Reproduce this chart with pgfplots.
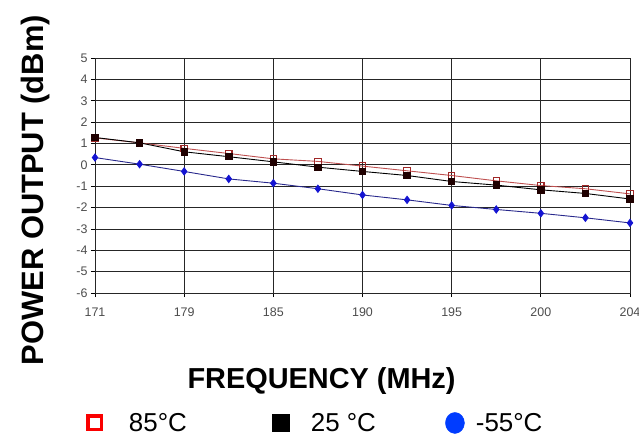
\documentclass[border=0pt]{standalone}
\usepackage{fontspec}
\setmainfont{Liberation Sans}
\usepackage{pgfplots}
\pgfplotsset{compat=1.18}

\definecolor{hotline}{RGB}{190,80,80}
\definecolor{hotmark}{RGB}{160,40,40}
\definecolor{coldline}{RGB}{40,40,140}
\definecolor{coldmark}{RGB}{20,20,210}
\definecolor{legred}{RGB}{250,0,0}
\definecolor{legblue}{RGB}{0,60,255}

% power output vs frequency index (171 ... 204 MHz, 13 steps)
\pgfplotstableread{
i  p85    p25    m55
0  1.26   1.28   0.34
1  1.03   1.03   0.03
2  0.77   0.61  -0.31
3  0.53   0.38  -0.66
4  0.28   0.14  -0.86
5  0.16  -0.11  -1.12
6 -0.06  -0.31  -1.41
7 -0.28  -0.50  -1.64
8 -0.50  -0.78  -1.90
9 -0.75  -0.95  -2.09
10 -0.97 -1.17  -2.27
11 -1.12 -1.34  -2.48
12 -1.36 -1.60  -2.72
}\powerdata

\begin{document}
\begin{tikzpicture}
\useasboundingbox (-95bp,-149bp) rectangle (544bp,293bp);
\begin{axis}[
    at={(0,0)}, anchor=south west,
    width=535bp, height=235bp,
    scale only axis,
    xmin=0, xmax=12,
    ymin=-6, ymax=5,
    xtick={0,2,4,6,8,10,12},
    xticklabels={171,179,185,190,195,200,204},
    ytick={-6,-5,-4,-3,-2,-1,0,1,2,3,4,5},
    yticklabels={-6,-5,-4,-3,-2,-1,0,1,2,3,4,5},
    xtick pos=bottom, ytick pos=left,
    tick align=outside,
    major tick length=4bp,
    tick style={black, line width=0.8bp},
    grid=major,
    major grid style={black!85, line width=0.8bp},
    axis line style={black!85, line width=0.8bp},
    ticklabel style={font=\fontsize{12.5}{14}\selectfont, text=black!70},
    xticklabel style={yshift=-7bp},
    xlabel={FREQUENCY (MHz)},
    ylabel={POWER OUTPUT (dBm)},
    xlabel style={at={(rel axis cs:0.4234,-0.375)}, anchor=center,
        font=\fontsize{29}{32}\selectfont\bfseries},
    ylabel style={at={(rel axis cs:-0.1120,0.438)}, anchor=center, rotate=0,
        font=\fontsize{31}{34}\selectfont\bfseries},
    legend columns=3,
    legend style={draw=none, fill=none, inner sep=0pt, outer sep=0pt,
        at={(rel axis cs:-0.0159,-0.553)}, anchor=west,
        nodes={inner sep=0pt, font=\fontsize{26}{28}\selectfont},
        /tikz/column sep=0pt},
    legend cell align=left,
]
\addplot[forget plot, hotline, line width=0.9bp, mark=square, mark size=3.2bp,
    mark options={hotmark, line width=1.1bp, fill=white}]
    table[x=i, y=p85] {\powerdata};
\addplot[forget plot, black, line width=0.9bp, mark=square*, mark size=3.2bp,
    mark options={black!80!red!60!black}]
    table[x=i, y=p25] {\powerdata};
\addplot[forget plot, coldline, line width=0.9bp, mark=diamond*, mark size=3.6bp,
    mark options={coldmark}]
    table[x=i, y=m55] {\powerdata};
\addlegendimage{legend image code/.code={
    \path[draw=none, fill=none] (-8.5bp,0) rectangle (34bp,0);
    \draw[legred, line width=3.5bp, fill=white] (-6.75bp,-6.75bp) rectangle (6.75bp,6.75bp);}}
\addlegendentry{85°C}
\addlegendimage{legend image code/.code={
    \path[draw=none, fill=none] (-94bp,0) rectangle (30bp,0);
    \fill[black] (-8.5bp,-8.5bp) rectangle (8.5bp,8.5bp);}}
\addlegendentry{25 °C}
\addlegendimage{legend image code/.code={
    \path[draw=none, fill=none] (-79bp,0) rectangle (21bp,0);
    \fill[legblue] (0,0) ellipse (9.5bp and 10.5bp);}}
\addlegendentry{-55°C}
\end{axis}
\end{tikzpicture}
\end{document}
